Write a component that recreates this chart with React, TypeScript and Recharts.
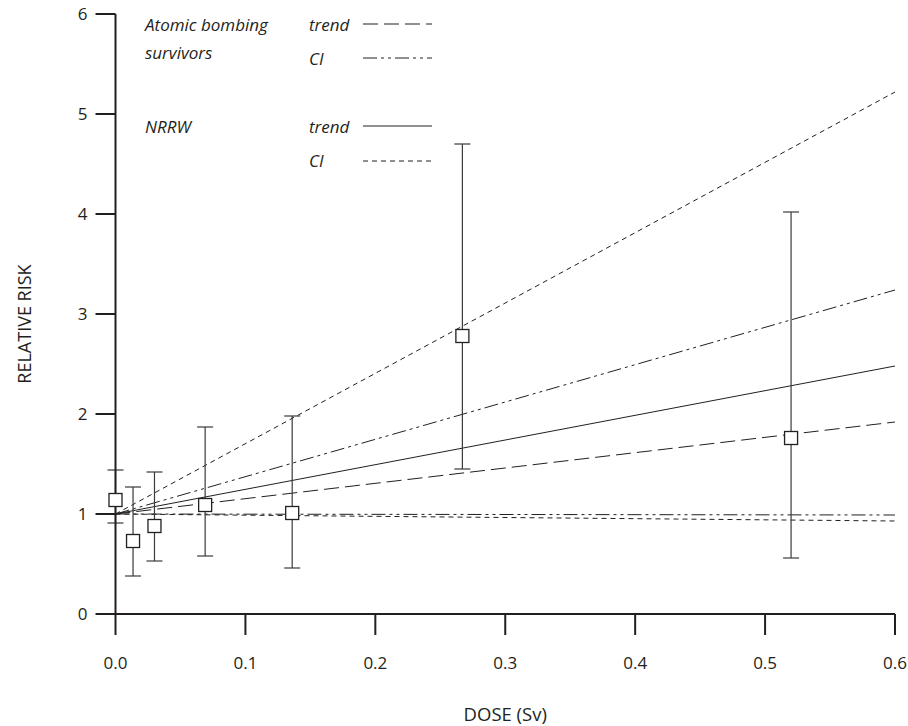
import React from "react";
import {
  ComposedChart,
  Line,
  Scatter,
  ErrorBar,
  XAxis,
  YAxis,
  Label,
  Legend,
} from "recharts";

// Observed points (NRRW)
const doses = [0.0, 0.0135, 0.03, 0.069, 0.136, 0.267, 0.52];
const relRisk = [1.14, 0.73, 0.88, 1.09, 1.01, 2.78, 1.76];
const ciLow = [0.91, 0.38, 0.53, 0.58, 0.46, 1.45, 0.56];
const ciHigh = [1.44, 1.27, 1.42, 1.87, 1.98, 4.7, 4.02];

// Fitted lines (dose endpoints, relative risk endpoints)
const lineDoses = [0, 0.6];
const atomicTrend = [1, 1.92];
const atomicCIUpper = [1, 3.24];
const atomicCILower = [1, 0.99];
const nrrwTrend = [1, 2.48];
const nrrwCIUpper = [1, 5.22];
const nrrwCILower = [1, 0.93];

const xTicks = [0, 0.1, 0.2, 0.3, 0.4, 0.5, 0.6];
const yTicks = [0, 1, 2, 3, 4, 5, 6];

const INK = "#231f20";
const DASH_ATOMIC_TREND = "15 6";
const DASH_ATOMIC_CI = "14 4 3 4 3 4";
const DASH_NRRW_CI = "5 4";

const toLine = (vals: number[]) =>
  lineDoses.map((d, i) => ({ dose: d, rr: vals[i] }));

const points = doses.map((d, i) => ({
  dose: d,
  rr: relRisk[i],
  err: [relRisk[i] - ciLow[i], ciHigh[i] - relRisk[i]],
}));

const Square = (props: any) => {
  const { cx, cy } = props;
  if (cx == null || cy == null) return null;
  return (
    <rect
      x={cx - 6.5}
      y={cy - 6.5}
      width={13}
      height={13}
      fill="#fff"
      stroke={INK}
      strokeWidth={1.3}
    />
  );
};

const LegendBox = () => (
  <svg width={460} height={180} style={{ display: "block" }}>
    <g fontFamily='"Open Sans", sans-serif' fontSize={17} fontStyle="italic" fill={INK}>
      <text x={145} y={31}>Atomic bombing</text>
      <text x={145} y={59}>survivors</text>
      <text x={145} y={133}>NRRW</text>
      <text x={309} y={31}>trend</text>
      <text x={309} y={65}>CI</text>
      <text x={309} y={133}>trend</text>
      <text x={309} y={167}>CI</text>
    </g>
    <g stroke={INK} strokeWidth={1}>
      <line x1={363} y1={24} x2={432} y2={24} strokeDasharray={DASH_ATOMIC_TREND} />
      <line x1={363} y1={58} x2={432} y2={58} strokeDasharray={DASH_ATOMIC_CI} />
      <line x1={363} y1={126} x2={432} y2={126} />
      <line x1={363} y1={161} x2={432} y2={161} strokeDasharray={DASH_NRRW_CI} />
    </g>
  </svg>
);

export default function App() {
  return (
    <div
      style={{
        position: "absolute",
        left: 0,
        top: 0,
        fontFamily: '"Open Sans", sans-serif',
      }}
    >
      <ComposedChart
        width={908}
        height={726}
        margin={{ top: 14, right: 13, bottom: 0, left: 0 }}
      >
        <XAxis
          type="number"
          dataKey="dose"
          domain={[0, 0.6]}
          ticks={xTicks}
          tickFormatter={(v: number) => v.toFixed(1)}
          height={112}
          tickSize={21}
          tickMargin={22}
          axisLine={{ stroke: INK, strokeWidth: 2 }}
          tickLine={{ stroke: INK, strokeWidth: 2 }}
          tick={{ fontSize: 17, fill: INK }}
        >
          <Label
            content={(p: any) => {
              const vb = p.viewBox;
              return (
                <text
                  x={vb.x + vb.width / 2}
                  y={vb.y + vb.height - 5}
                  textAnchor="middle"
                  fontSize={18.5}
                  fill={INK}
                >
                  DOSE (Sv)
                </text>
              );
            }}
          />
        </XAxis>
        <YAxis
          type="number"
          domain={[0, 6]}
          ticks={yTicks}
          width={115.5}
          tickSize={20}
          tickMargin={8}
          axisLine={{ stroke: INK, strokeWidth: 2 }}
          tickLine={{ stroke: INK, strokeWidth: 2 }}
          tick={{ fontSize: 17, fill: INK }}
        >
          <Label
            content={(p: any) => {
              const vb = p.viewBox;
              const cx = vb.x + 31;
              const cy = vb.y + vb.height / 2 + 10;
              return (
                <text
                  x={cx}
                  y={cy}
                  transform={`rotate(-90 ${cx} ${cy})`}
                  textAnchor="middle"
                  fontSize={18}
                  fill={INK}
                >
                  RELATIVE RISK
                </text>
              );
            }}
          />
        </YAxis>
        <Legend
          layout="vertical"
          align="center"
          verticalAlign="middle"
          wrapperStyle={{ left: 0, top: 0, width: 460, height: 180 }}
          content={() => <LegendBox />}
        />
        <Line
          data={toLine(nrrwCIUpper)}
          dataKey="rr"
          stroke={INK}
          strokeWidth={1}
          strokeDasharray={DASH_NRRW_CI}
          dot={false}
          activeDot={false}
          isAnimationActive={false}
          legendType="none"
        />
        <Line
          data={toLine(nrrwCILower)}
          dataKey="rr"
          stroke={INK}
          strokeWidth={1}
          strokeDasharray={DASH_NRRW_CI}
          dot={false}
          activeDot={false}
          isAnimationActive={false}
          legendType="none"
        />
        <Line
          data={toLine(atomicCIUpper)}
          dataKey="rr"
          stroke={INK}
          strokeWidth={1}
          strokeDasharray={DASH_ATOMIC_CI}
          dot={false}
          activeDot={false}
          isAnimationActive={false}
          legendType="none"
        />
        <Line
          data={toLine(atomicCILower)}
          dataKey="rr"
          stroke={INK}
          strokeWidth={1}
          strokeDasharray={DASH_ATOMIC_CI}
          dot={false}
          activeDot={false}
          isAnimationActive={false}
          legendType="none"
        />
        <Line
          data={toLine(nrrwTrend)}
          dataKey="rr"
          stroke={INK}
          strokeWidth={1}
          dot={false}
          activeDot={false}
          isAnimationActive={false}
          legendType="none"
        />
        <Line
          data={toLine(atomicTrend)}
          dataKey="rr"
          stroke={INK}
          strokeWidth={1}
          strokeDasharray={DASH_ATOMIC_TREND}
          dot={false}
          activeDot={false}
          isAnimationActive={false}
          legendType="none"
        />
        <Scatter
          data={points}
          dataKey="rr"
          shape={Square}
          isAnimationActive={false}
          legendType="none"
        >
          <ErrorBar
            dataKey="err"
            direction="y"
            width={8}
            stroke="#3a3a3a"
            strokeWidth={1.2}
            isAnimationActive={false}
          />
        </Scatter>
      </ComposedChart>
    </div>
  );
}
